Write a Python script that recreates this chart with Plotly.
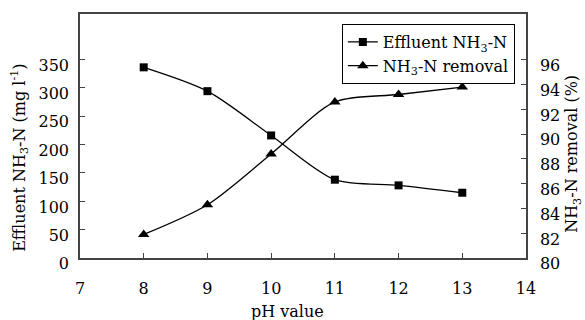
import plotly.graph_objects as go

ph = [8, 9, 10, 11, 12, 13]
effluent = [336, 294, 216, 138, 128, 115]
removal = [81.9, 84.3, 88.4, 92.6, 93.2, 93.8]

x_ticks = [7, 8, 9, 10, 11, 12, 13, 14]
left_ticks = [0, 50, 100, 150, 200, 250, 300, 350]
right_ticks = [80, 82, 84, 86, 88, 90, 92, 94, 96]

FONT = "'DejaVu Serif', 'Liberation Serif', serif"
AX = "#444444"

fig = go.Figure()
fig.add_trace(go.Scatter(
    x=ph, y=effluent, name="Effluent NH<sub>3</sub>-N",
    mode="lines+markers", line=dict(color="black", width=1.3, shape="spline", smoothing=0.8),
    marker=dict(symbol="square", size=8, color="black"), yaxis="y"))
fig.add_trace(go.Scatter(
    x=ph, y=removal, name="NH<sub>3</sub>-N removal",
    mode="lines+markers", line=dict(color="black", width=1.3, shape="spline", smoothing=0.8),
    marker=dict(symbol="triangle-up", size=10, color="black"), yaxis="y2"))

tickfont = dict(family=FONT, size=16, color="black")
fig.update_layout(
    width=585, height=320,
    margin=dict(l=80, r=59, t=12, b=62),
    paper_bgcolor="white", plot_bgcolor="white",
    font=dict(family=FONT, size=16, color="black"),
    showlegend=True,
    legend=dict(x=0.975, y=0.959, xanchor="right", yanchor="top",
                bgcolor="white", bordercolor="black", borderwidth=1,
                font=dict(family=FONT, size=16, color="black"),
                tracegroupgap=0, itemwidth=30),
    xaxis=dict(range=[7, 14], tickvals=x_ticks, ticks="inside", ticklen=5,
               tickcolor=AX, showline=True, linecolor=AX, linewidth=1.5,
               mirror=True, showgrid=False, zeroline=False, tickfont=tickfont,
               ticklabelstandoff=15),
    yaxis=dict(range=[0, 430], tickvals=left_ticks, ticks="inside", ticklen=5,
               tickcolor=AX, showline=True, linecolor=AX, linewidth=1.5,
               showgrid=False, zeroline=False, tickfont=tickfont,
               ticklabelposition="outside bottom", ticklabelstandoff=6,
               ticklabelshift=-6),
    yaxis2=dict(range=[80, 99.7], tickvals=right_ticks, ticks="inside", ticklen=5,
                tickcolor=AX, showline=True, linecolor=AX, linewidth=1.5,
                overlaying="y", side="right", showgrid=False, zeroline=False,
                tickfont=tickfont, ticklabelposition="outside bottom",
                ticklabelstandoff=9, ticklabelshift=-6),
    annotations=[
        dict(text="pH value", x=(287 - 80) / 446, y=-0.22, xref="paper", yref="paper",
             xanchor="center", yanchor="middle", showarrow=False,
             font=dict(family=FONT, size=16)),
        dict(text="Effluent NH<sub>3</sub>-N (mg l<sup>-1</sup>)", x=(20 - 80) / 446, y=(258 - 157) / 246,
             xref="paper", yref="paper", textangle=-90, xanchor="center", yanchor="middle",
             showarrow=False, font=dict(family=FONT, size=16)),
        dict(text="NH<sub>3</sub>-N removal (%)", x=(573 - 80) / 446, y=(258 - 153) / 246,
             xref="paper", yref="paper", textangle=-90, xanchor="center", yanchor="middle",
             showarrow=False, font=dict(family=FONT, size=16)),
    ],
)

fig.write_html("out.html")
